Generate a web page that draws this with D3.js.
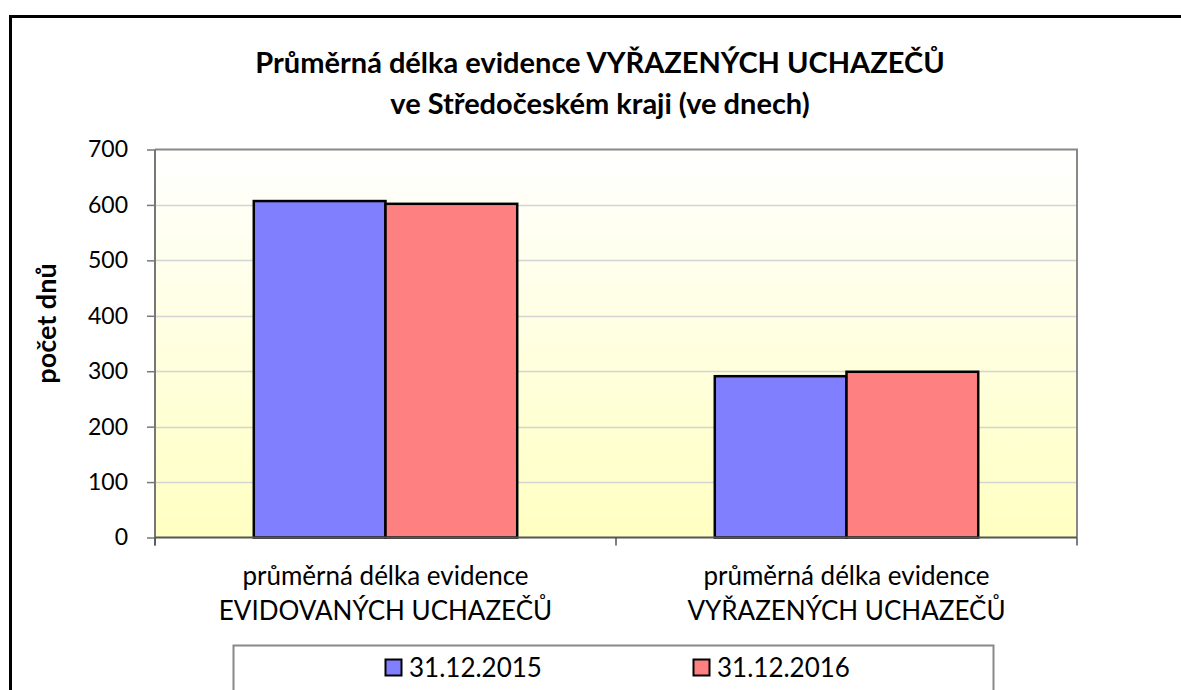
<!DOCTYPE html>
<html>
<head>
<meta charset="utf-8">
<script src="https://cdn.jsdelivr.net/npm/d3@7/dist/d3.min.js"></script>
<style>
  html, body { margin: 0; padding: 0; background: #ffffff; }
  svg { display: block; }
  text { font-family: Lato, "Open Sans", sans-serif; fill: #000; }
</style>
</head>
<body>
<svg id="chart" width="1181" height="690"></svg>
<script>
// ---- data ----
const categories = [
  ["průměrná délka evidence", "EVIDOVANÝCH UCHAZEČŮ"],
  ["průměrná délka evidence", "VYŘAZENÝCH UCHAZEČŮ"]
];
const seriesNames = ["31.12.2015", "31.12.2016"];
const values2015 = [607, 291];
const values2016 = [602, 299];
const yTicks = [0, 100, 200, 300, 400, 500, 600, 700];
const titleLines = ["Průměrná délka evidence VYŘAZENÝCH UCHAZEČŮ", "ve Středočeském kraji (ve dnech)"];
const yLabel = "počet dnů";
const seriesColors = ["#8080FF", "#FF8080"];

const seriesValues = [values2015, values2016];
const catKeys = categories.map((c, i) => "c" + i);

// ---- layout ----
const svg = d3.select("#chart");
const plot = { left: 155, right: 1077, top: 149.5, bottom: 537.5 };

// outer frame
svg.append("rect")
  .attr("x", 10.5).attr("y", 16.5)
  .attr("width", 1200).attr("height", 720)
  .attr("fill", "#fff").attr("stroke", "#000").attr("stroke-width", 3);

// gradient
const defs = svg.append("defs");
const grad = defs.append("linearGradient").attr("id", "bg")
  .attr("x1", 0).attr("y1", 0).attr("x2", 0).attr("y2", 1);
grad.append("stop").attr("offset", "0%").attr("stop-color", "#FFFFFF");
grad.append("stop").attr("offset", "100%").attr("stop-color", "#FFFFC2");

// scales
const y = d3.scaleLinear().domain([0, 700]).range([plot.bottom, plot.top]);
const x0 = d3.scaleBand().domain(catKeys).range([plot.left, plot.right]).paddingInner(0).paddingOuter(0);
const x1 = d3.scaleBand().domain(seriesNames).range([0, x0.bandwidth()]).paddingInner(0).paddingOuter(0.75);

// plot background
svg.append("rect")
  .attr("x", plot.left).attr("y", plot.top)
  .attr("width", plot.right - plot.left).attr("height", plot.bottom - plot.top)
  .attr("fill", "url(#bg)");

// gridlines
svg.append("g").selectAll("line")
  .data(yTicks.filter(t => t > 0 && t < 700))
  .join("line")
  .attr("x1", plot.left).attr("x2", plot.right)
  .attr("y1", d => Math.round(y(d)) + 0.5).attr("y2", d => Math.round(y(d)) + 0.5)
  .attr("stroke", "#D4D4D4").attr("stroke-width", 1.5);

// plot border (top & right)
svg.append("path")
  .attr("d", `M${plot.left},${plot.top}H${plot.right}V${plot.bottom}`)
  .attr("fill", "none").attr("stroke", "#888888").attr("stroke-width", 2);

// bars
const groups = svg.append("g").selectAll("g")
  .data(catKeys)
  .join("g")
  .attr("transform", d => `translate(${x0(d)},0)`);

groups.selectAll("rect")
  .data((d, i) => seriesNames.map((s, j) => ({ s, v: seriesValues[j][i], j })))
  .join("rect")
  .attr("x", d => x1(d.s))
  .attr("y", d => y(d.v))
  .attr("width", x1.bandwidth())
  .attr("height", d => y(0) - y(d.v))
  .attr("fill", d => seriesColors[d.j])
  .attr("stroke", "#000").attr("stroke-width", 2.5);

// y axis
const yAxis = d3.axisLeft(y).tickValues(yTicks).tickSize(8).tickPadding(19).tickFormat(d3.format("d"));
const yg = svg.append("g").attr("transform", `translate(${plot.left},0)`).call(yAxis);
yg.select(".domain").attr("stroke", "#777").attr("stroke-width", 2)
  .attr("d", `M0,${plot.top}V${plot.bottom + 8}`);
yg.selectAll(".tick line").attr("stroke", "#777").attr("stroke-width", 1.5);
yg.selectAll(".tick text").style("font-family", "Lato, sans-serif").style("font-size", "23px").attr("fill", "#000");

// x axis baseline
svg.append("line")
  .attr("x1", plot.left).attr("x2", plot.right)
  .attr("y1", y(0)).attr("y2", y(0))
  .attr("stroke", "#555").attr("stroke-width", 2);

// x boundary ticks
const bounds = catKeys.map(k => x0(k)).concat([x0(catKeys[catKeys.length - 1]) + x0.bandwidth()]);
svg.append("g").selectAll("line")
  .data(bounds)
  .join("line")
  .attr("x1", d => d).attr("x2", d => d)
  .attr("y1", y(0)).attr("y2", y(0) + 8)
  .attr("stroke", "#555").attr("stroke-width", 1.5);

// category labels
const catLabels = svg.append("g").selectAll("text")
  .data(categories)
  .join("text")
  .attr("x", (d, i) => x0(catKeys[i]) + x0.bandwidth() / 2)
  .attr("y", 585)
  .attr("text-anchor", "middle")
  .style("font-size", "26px");
catLabels.selectAll("tspan")
  .data(d => d)
  .join("tspan")
  .attr("x", function () { return d3.select(this.parentNode).attr("x"); })
  .attr("dy", (d, i) => i === 0 ? 0 : 35)
  .text(d => d);

// title
svg.append("g").selectAll("text")
  .data(titleLines)
  .join("text")
  .attr("x", 600)
  .attr("y", (d, i) => 73 + i * 41)
  .attr("text-anchor", "middle")
  .style("font-size", "29px").style("font-weight", "bold")
  .text(d => d);

// y label
svg.append("text")
  .attr("transform", `translate(56, ${(plot.top + plot.bottom) / 2 - 20}) rotate(-90)`)
  .attr("text-anchor", "middle")
  .style("font-size", "27px").style("font-weight", "bold")
  .text(yLabel);

// legend
svg.append("rect")
  .attr("x", 233.5).attr("y", 645.5)
  .attr("width", 760).attr("height", 80)
  .attr("fill", "#fff").attr("stroke", "#888").attr("stroke-width", 2);

const legendX = [385, 693];
const leg = svg.append("g").selectAll("g")
  .data(seriesNames)
  .join("g")
  .attr("transform", (d, i) => `translate(${legendX[i]}, 659)`);
leg.append("rect")
  .attr("x", 0.5).attr("y", 0.5).attr("width", 16).attr("height", 16)
  .attr("fill", (d, i) => seriesColors[i]).attr("stroke", "#000").attr("stroke-width", 2);
leg.append("text")
  .attr("x", 24).attr("y", 18)
  .style("font-size", "26px")
  .text(d => d);
</script>
</body>
</html>
